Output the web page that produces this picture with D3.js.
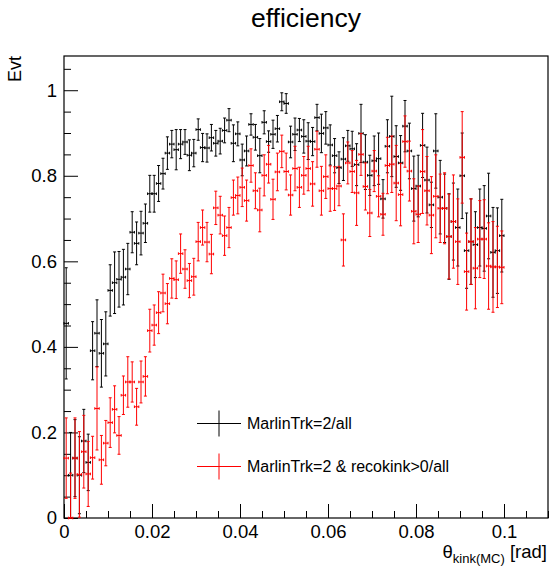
<!DOCTYPE html>
<html>
<head>
<meta charset="utf-8">
<script src="https://cdn.jsdelivr.net/npm/d3@7"></script>
<style>
  html, body { margin: 0; padding: 0; background: #fff; }
  svg { display: block; font-family: "Liberation Sans", Arial, Helvetica, sans-serif; }
</style>
</head>
<body>
<svg id="chart" width="549" height="566"></svg>
<script>
// histogram binning: 100 bins over [0, 0.1] rad
const nBins = 100;
const binLow = 0;
const binHigh = 0.1;

// MarlinTrk=2/all  (efficiency per bin and its error)
const allEff = [
  0.455, 0.10, 0.14, 0.10, 0.18, 0.13, 0.391, 0.432, 0.385, 0.407,
  0.532, 0.55, 0.558, 0.563, 0.582, 0.668, 0.642, 0.666, 0.689, 0.758,
  0.758, 0.782, 0.805, 0.853, 0.874, 0.861, 0.874, 0.879, 0.848, 0.853,
  0.908, 0.866, 0.865, 0.889, 0.876, 0.881, 0.906, 0.93, 0.876, 0.898,
  0.837, 0.858, 0.92, 0.89, 0.847, 0.925, 0.88, 0.897, 0.91, 0.973,
  0.969, 0.879, 0.897, 0.907, 0.892, 0.881, 0.88, 0.936, 0.899, 0.912,
  0.872, 0.847, 0.819, 0.839, 0.87, 0.863, 0.826, 0.899, 0.832, 0.801,
  0.835, 0.84, 0.746, 0.869, 0.892, 0.845, 0.83, 0.916, 0.858, 0.77,
  0.776, 0.871, 0.79, 0.732, 0.858, 0.75, 0.724, 0.658, 0.693, 0.679,
  0.80, 0.625, 0.646, 0.639, 0.679, 0.677, 0.706, 0.621, 0.625, 0.66
];
const allErr = [
  0.13, 0.10, 0.09, 0.09, 0.074, 0.066, 0.068, 0.078, 0.079, 0.075,
  0.06, 0.072, 0.065, 0.065, 0.06, 0.048, 0.05, 0.051, 0.045, 0.043,
  0.043, 0.042, 0.036, 0.038, 0.032, 0.047, 0.034, 0.029, 0.036, 0.032,
  0.025, 0.033, 0.033, 0.031, 0.03, 0.03, 0.029, 0.027, 0.043, 0.028,
  0.037, 0.035, 0.025, 0.03, 0.04, 0.027, 0.025, 0.033, 0.031, 0.021,
  0.023, 0.037, 0.038, 0.027, 0.039, 0.043, 0.033, 0.031, 0.045, 0.038,
  0.047, 0.04, 0.037, 0.05, 0.036, 0.041, 0.049, 0.068, 0.064, 0.047,
  0.058, 0.06, 0.045, 0.062, 0.094, 0.072, 0.064, 0.06, 0.065, 0.076,
  0.072, 0.075, 0.077, 0.053, 0.087, 0.086, 0.08, 0.1, 0.09, 0.09,
  0.1, 0.088, 0.1, 0.077, 0.09, 0.1, 0.1, 0.105, 0.1, 0.085
];

// MarlinTrk=2 & recokink>0/all
const kinkEff = [
  0.14, 0.0, 0.14, 0.102, 0.155, 0.103, 0.141, 0.256, 0.136, 0.175,
  0.223, 0.254, 0.193, 0.287, 0.318, 0.318, 0.26, 0.318, 0.331, 0.438,
  0.451, 0.48, 0.526, 0.501, 0.56, 0.557, 0.618, 0.582, 0.555, 0.564,
  0.646, 0.679, 0.645, 0.617, 0.725, 0.708, 0.66, 0.679, 0.749, 0.754,
  0.773, 0.742, 0.824, 0.765, 0.72, 0.801, 0.827, 0.745, 0.809, 0.857,
  0.81, 0.755, 0.817, 0.773, 0.801, 0.817, 0.781, 0.862, 0.765, 0.798,
  0.77, 0.77, 0.776, 0.65, 0.83, 0.81, 0.76, 0.85, 0.775, 0.713,
  0.811, 0.752, 0.71, 0.824, 0.827, 0.783, 0.756, 0.88, 0.811, 0.717,
  0.71, 0.81, 0.765, 0.708, 0.752, 0.724, 0.724, 0.658, 0.693, 0.646,
  0.843, 0.576, 0.646, 0.584, 0.652, 0.652, 0.589, 0.587, 0.587, 0.586
];
const kinkErr = [
  0.094, 0.105, 0.094, 0.1, 0.085, 0.076, 0.05, 0.097, 0.057, 0.053,
  0.058, 0.055, 0.044, 0.045, 0.059, 0.047, 0.043, 0.049, 0.046, 0.05,
  0.047, 0.049, 0.044, 0.047, 0.046, 0.044, 0.046, 0.045, 0.04, 0.043,
  0.045, 0.041, 0.046, 0.046, 0.039, 0.044, 0.046, 0.047, 0.041, 0.043,
  0.045, 0.048, 0.039, 0.042, 0.051, 0.048, 0.044, 0.047, 0.044, 0.038,
  0.043, 0.047, 0.052, 0.047, 0.044, 0.052, 0.052, 0.042, 0.057, 0.051,
  0.053, 0.051, 0.046, 0.061, 0.049, 0.049, 0.076, 0.049, 0.055, 0.055,
  0.048, 0.048, 0.049, 0.066, 0.066, 0.088, 0.073, 0.06, 0.07, 0.076,
  0.066, 0.098, 0.08, 0.09, 0.097, 0.08, 0.083, 0.099, 0.109, 0.1,
  0.107, 0.09, 0.1, 0.095, 0.09, 0.092, 0.101, 0.106, 0.095, 0.085
];

const xTickValues = [0, 0.02, 0.04, 0.06, 0.08, 0.1];
const xTickLabels = ["0", "0.02", "0.04", "0.06", "0.08", "0.1"];
const yTickValues = [0, 0.2, 0.4, 0.6, 0.8, 1];
const yTickLabels = ["0", "0.2", "0.4", "0.6", "0.8", "1"];

const seriesNames = ["MarlinTrk=2/all", "MarlinTrk=2 & recokink>0/all"];
const seriesColors = ["#000000", "#ff0000"];

// ---- 画布与比例尺 ----
const svg = d3.select('#chart');
const frame = { left: 64, top: 56, right: 548, bottom: 518 };

const x = d3.scaleLinear().domain([0, 0.11]).range([frame.left, frame.right]);
const y = d3.scaleLinear().domain([0, 1.08]).range([frame.bottom, frame.top]);

const binWidth = (binHigh - binLow) / nBins;
const binCenter = i => binLow + (i + 0.5) * binWidth;

// 标题
svg.append('text')
  .attr('x', 306).attr('y', 27)
  .attr('text-anchor', 'middle')
  .attr('font-size', 26.5)
  .text('efficiency');

// 坐标轴 (ROOT 风格: 刻度朝内)
const xMinor = d3.range(0, 0.1101, 0.005).filter(v => Math.abs(v / 0.02 - Math.round(v / 0.02)) > 1e-6);
const yMinor = d3.range(0, 1.0801, 0.05).filter(v => Math.abs(v / 0.2 - Math.round(v / 0.2)) > 1e-6);

const xAxis = d3.axisBottom(x)
  .tickValues(xTickValues)
  .tickFormat((d, i) => xTickLabels[i])
  .tickSizeInner(-14).tickSizeOuter(0).tickPadding(7);
const xAxisMinor = d3.axisBottom(x)
  .tickValues(xMinor).tickFormat('')
  .tickSizeInner(-7).tickSizeOuter(0);

const yAxis = d3.axisLeft(y)
  .tickValues(yTickValues)
  .tickFormat((d, i) => yTickLabels[i])
  .tickSizeInner(-14).tickSizeOuter(0).tickPadding(7);
const yAxisMinor = d3.axisLeft(y)
  .tickValues(yMinor).tickFormat('')
  .tickSizeInner(-7).tickSizeOuter(0);

function styleAxis(g) {
  g.select('.domain').remove();
  g.selectAll('.tick line').attr('stroke', '#000').attr('stroke-width', 1);
  g.selectAll('.tick text')
    .attr('fill', '#000')
    .attr('font-size', 18.5)
    .attr('font-family', '"Liberation Sans", Arial, sans-serif');
}

svg.append('g').attr('transform', `translate(0,${frame.bottom})`).call(xAxis).call(styleAxis);
svg.append('g').attr('transform', `translate(0,${frame.bottom})`).call(xAxisMinor).call(styleAxis);
svg.append('g').attr('transform', `translate(${frame.left},0)`).call(yAxis).call(styleAxis);
svg.append('g').attr('transform', `translate(${frame.left},0)`).call(yAxisMinor).call(styleAxis);

// 外框
svg.append('rect')
  .attr('x', frame.left).attr('y', frame.top)
  .attr('width', frame.right - frame.left)
  .attr('height', frame.bottom - frame.top)
  .attr('fill', 'none').attr('stroke', '#000').attr('stroke-width', 1.2);

// 轴标题
svg.append('text')
  .attr('transform', 'translate(21,56) rotate(-90)')
  .attr('text-anchor', 'end')
  .attr('font-size', 18)
  .text('Evt');

const xTitle = svg.append('text')
  .attr('x', 547).attr('y', 558)
  .attr('text-anchor', 'end')
  .attr('font-size', 18.5);
xTitle.append('tspan').text('θ');
xTitle.append('tspan').attr('font-size', 13).attr('dy', 5).text('kink(MC)');
xTitle.append('tspan').attr('dy', -5).text(' [rad]');

// ---- 误差棒 ----
function drawSeries(eff, err, color) {
  const pts = eff.map((v, i) => ({
    x: binCenter(i),
    v: v,
    lo: Math.max(0, v - err[i]),
    hi: Math.min(1, v + err[i])
  }));
  const g = svg.append('g')
    .attr('stroke', color)
    .attr('stroke-width', 1)
    .attr('fill', 'none');
  const bars = g.selectAll('g.pt').data(pts).enter().append('g').attr('class', 'pt');

  // 竖直误差
  bars.append('line')
    .attr('x1', d => x(d.x)).attr('x2', d => x(d.x))
    .attr('y1', d => y(d.lo)).attr('y2', d => y(d.hi));
  bars.append('line')
    .attr('x1', d => x(d.x) - 1.5).attr('x2', d => x(d.x) + 1.5)
    .attr('y1', d => y(d.hi)).attr('y2', d => y(d.hi));
  bars.append('line')
    .attr('x1', d => x(d.x) - 1.5).attr('x2', d => x(d.x) + 1.5)
    .attr('y1', d => y(d.lo)).attr('y2', d => y(d.lo));

  // 水平误差 (半个bin宽)
  bars.append('line')
    .attr('x1', d => x(d.x - binWidth / 2)).attr('x2', d => x(d.x + binWidth / 2))
    .attr('y1', d => y(d.v)).attr('y2', d => y(d.v));
  bars.append('line')
    .attr('x1', d => x(d.x - binWidth / 2)).attr('x2', d => x(d.x - binWidth / 2))
    .attr('y1', d => y(d.v) - 1.3).attr('y2', d => y(d.v) + 1.3);
  bars.append('line')
    .attr('x1', d => x(d.x + binWidth / 2)).attr('x2', d => x(d.x + binWidth / 2))
    .attr('y1', d => y(d.v) - 1.3).attr('y2', d => y(d.v) + 1.3);
}

drawSeries(allEff, allErr, seriesColors[0]);
drawSeries(kinkEff, kinkErr, seriesColors[1]);

// ---- 图例 ----
const legendRows = [423.5, 466.5];
seriesNames.forEach((name, i) => {
  const ly = legendRows[i];
  const lg = svg.append('g').attr('stroke', seriesColors[i]).attr('stroke-width', 1);
  lg.append('line').attr('x1', 197).attr('x2', 241).attr('y1', ly).attr('y2', ly);
  lg.append('line').attr('x1', 219).attr('x2', 219).attr('y1', ly - 13).attr('y2', ly + 13);
  svg.append('text')
    .attr('x', 247).attr('y', ly + 5.5)
    .attr('font-size', 16)
    .attr('fill', '#000')
    .text(name);
});
</script>
</body>
</html>
